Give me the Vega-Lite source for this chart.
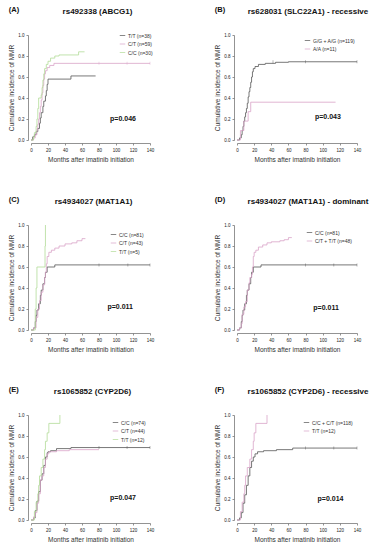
{
"$schema": "https://vega.github.io/schema/vega-lite/v6.json",
"background": "white",
"padding": {"left": 8, "top": 5, "right": 0, "bottom": 0},
"config": {
  "view": {"stroke": null},
  "font": "Liberation Sans",
  "axis": {"grid": false, "domainColor": "#777777", "tickColor": "#777777", "domainWidth": 0.8, "tickWidth": 0.8, "tickSize": 2, "tickCount": 20, "labelFontSize": 4.5, "labelColor": "#222222", "titleFontSize": 6.5, "titleFontWeight": "normal", "titleColor": "#333333", "offset": 3, "labelOverlap": false, "labelFlush": false, "labelBound": false},
  "axisX": {"labelPadding": 2, "titlePadding": 5},
  "axisY": {"labelPadding": 2, "titlePadding": 3},
  "legend": {"orient": "top-right", "symbolType": "stroke", "symbolSize": 30, "symbolStrokeWidth": 1, "labelFontSize": 5, "labelColor": "#333333", "rowPadding": 1.5, "padding": 0, "offset": 3, "labelOffset": 2, "labelLimit": 100},
  "title": {"fontSize": 8, "fontWeight": "bold", "color": "#111111"}
},
"datasets": {
  "km": [
    {"p":"A","g":"T/T (n=38)","x":0,"y":0},{"p":"A","g":"T/T (n=38)","x":2,"y":0.03},{"p":"A","g":"T/T (n=38)","x":4,"y":0.05},{"p":"A","g":"T/T (n=38)","x":6,"y":0.08},{"p":"A","g":"T/T (n=38)","x":8,"y":0.11},{"p":"A","g":"T/T (n=38)","x":10,"y":0.16},{"p":"A","g":"T/T (n=38)","x":11,"y":0.21},{"p":"A","g":"T/T (n=38)","x":12,"y":0.26},{"p":"A","g":"T/T (n=38)","x":14,"y":0.32},{"p":"A","g":"T/T (n=38)","x":15,"y":0.37},{"p":"A","g":"T/T (n=38)","x":17,"y":0.42},{"p":"A","g":"T/T (n=38)","x":18,"y":0.47},{"p":"A","g":"T/T (n=38)","x":19,"y":0.53},{"p":"A","g":"T/T (n=38)","x":20,"y":0.58},{"p":"A","g":"T/T (n=38)","x":47,"y":0.61},{"p":"A","g":"T/T (n=38)","x":76,"y":0.61},
    {"p":"A","g":"C/T (n=59)","x":0,"y":0},{"p":"A","g":"C/T (n=59)","x":3,"y":0.02},{"p":"A","g":"C/T (n=59)","x":5,"y":0.05},{"p":"A","g":"C/T (n=59)","x":7,"y":0.1},{"p":"A","g":"C/T (n=59)","x":8,"y":0.15},{"p":"A","g":"C/T (n=59)","x":9,"y":0.2},{"p":"A","g":"C/T (n=59)","x":10,"y":0.26},{"p":"A","g":"C/T (n=59)","x":11,"y":0.32},{"p":"A","g":"C/T (n=59)","x":12,"y":0.38},{"p":"A","g":"C/T (n=59)","x":13,"y":0.45},{"p":"A","g":"C/T (n=59)","x":14,"y":0.52},{"p":"A","g":"C/T (n=59)","x":15,"y":0.58},{"p":"A","g":"C/T (n=59)","x":16,"y":0.63},{"p":"A","g":"C/T (n=59)","x":17,"y":0.66},{"p":"A","g":"C/T (n=59)","x":19,"y":0.69},{"p":"A","g":"C/T (n=59)","x":22,"y":0.71},{"p":"A","g":"C/T (n=59)","x":27,"y":0.73},{"p":"A","g":"C/T (n=59)","x":140,"y":0.73},
    {"p":"A","g":"C/C (n=30)","x":0,"y":0},{"p":"A","g":"C/C (n=30)","x":3,"y":0.03},{"p":"A","g":"C/C (n=30)","x":4,"y":0.07},{"p":"A","g":"C/C (n=30)","x":6,"y":0.13},{"p":"A","g":"C/C (n=30)","x":7,"y":0.2},{"p":"A","g":"C/C (n=30)","x":8,"y":0.3},{"p":"A","g":"C/C (n=30)","x":9,"y":0.4},{"p":"A","g":"C/C (n=30)","x":12,"y":0.43},{"p":"A","g":"C/C (n=30)","x":13,"y":0.5},{"p":"A","g":"C/C (n=30)","x":14,"y":0.57},{"p":"A","g":"C/C (n=30)","x":15,"y":0.63},{"p":"A","g":"C/C (n=30)","x":16,"y":0.68},{"p":"A","g":"C/C (n=30)","x":18,"y":0.72},{"p":"A","g":"C/C (n=30)","x":20,"y":0.75},{"p":"A","g":"C/C (n=30)","x":23,"y":0.78},{"p":"A","g":"C/C (n=30)","x":28,"y":0.8},{"p":"A","g":"C/C (n=30)","x":33,"y":0.81},{"p":"A","g":"C/C (n=30)","x":56,"y":0.84},{"p":"A","g":"C/C (n=30)","x":63,"y":0.84},

    {"p":"B","g":"G/G + A/G (n=119)","x":0,"y":0},{"p":"B","g":"G/G + A/G (n=119)","x":3,"y":0.02},{"p":"B","g":"G/G + A/G (n=119)","x":5,"y":0.05},{"p":"B","g":"G/G + A/G (n=119)","x":6,"y":0.09},{"p":"B","g":"G/G + A/G (n=119)","x":7,"y":0.13},{"p":"B","g":"G/G + A/G (n=119)","x":8,"y":0.18},{"p":"B","g":"G/G + A/G (n=119)","x":9,"y":0.22},{"p":"B","g":"G/G + A/G (n=119)","x":10,"y":0.26},{"p":"B","g":"G/G + A/G (n=119)","x":11,"y":0.3},{"p":"B","g":"G/G + A/G (n=119)","x":12,"y":0.35},{"p":"B","g":"G/G + A/G (n=119)","x":13,"y":0.41},{"p":"B","g":"G/G + A/G (n=119)","x":14,"y":0.46},{"p":"B","g":"G/G + A/G (n=119)","x":15,"y":0.5},{"p":"B","g":"G/G + A/G (n=119)","x":16,"y":0.55},{"p":"B","g":"G/G + A/G (n=119)","x":17,"y":0.6},{"p":"B","g":"G/G + A/G (n=119)","x":18,"y":0.65},{"p":"B","g":"G/G + A/G (n=119)","x":19,"y":0.68},{"p":"B","g":"G/G + A/G (n=119)","x":21,"y":0.7},{"p":"B","g":"G/G + A/G (n=119)","x":25,"y":0.72},{"p":"B","g":"G/G + A/G (n=119)","x":33,"y":0.73},{"p":"B","g":"G/G + A/G (n=119)","x":45,"y":0.74},{"p":"B","g":"G/G + A/G (n=119)","x":60,"y":0.745},{"p":"B","g":"G/G + A/G (n=119)","x":140,"y":0.745},
    {"p":"B","g":"A/A (n=11)","x":0,"y":0},{"p":"B","g":"A/A (n=11)","x":4,"y":0.09},{"p":"B","g":"A/A (n=11)","x":8,"y":0.18},{"p":"B","g":"A/A (n=11)","x":13,"y":0.27},{"p":"B","g":"A/A (n=11)","x":16,"y":0.36},{"p":"B","g":"A/A (n=11)","x":115,"y":0.36},

    {"p":"C","g":"C/C (n=81)","x":0,"y":0},{"p":"C","g":"C/C (n=81)","x":3,"y":0.02},{"p":"C","g":"C/C (n=81)","x":5,"y":0.08},{"p":"C","g":"C/C (n=81)","x":6,"y":0.14},{"p":"C","g":"C/C (n=81)","x":7,"y":0.19},{"p":"C","g":"C/C (n=81)","x":9,"y":0.25},{"p":"C","g":"C/C (n=81)","x":11,"y":0.33},{"p":"C","g":"C/C (n=81)","x":12,"y":0.38},{"p":"C","g":"C/C (n=81)","x":14,"y":0.44},{"p":"C","g":"C/C (n=81)","x":16,"y":0.5},{"p":"C","g":"C/C (n=81)","x":17,"y":0.55},{"p":"C","g":"C/C (n=81)","x":19,"y":0.6},{"p":"C","g":"C/C (n=81)","x":28,"y":0.62},{"p":"C","g":"C/C (n=81)","x":140,"y":0.62},
    {"p":"C","g":"C/T (n=43)","x":0,"y":0},{"p":"C","g":"C/T (n=43)","x":3,"y":0.02},{"p":"C","g":"C/T (n=43)","x":6,"y":0.12},{"p":"C","g":"C/T (n=43)","x":8,"y":0.2},{"p":"C","g":"C/T (n=43)","x":10,"y":0.28},{"p":"C","g":"C/T (n=43)","x":12,"y":0.36},{"p":"C","g":"C/T (n=43)","x":14,"y":0.43},{"p":"C","g":"C/T (n=43)","x":16,"y":0.5},{"p":"C","g":"C/T (n=43)","x":17,"y":0.55},{"p":"C","g":"C/T (n=43)","x":18,"y":0.63},{"p":"C","g":"C/T (n=43)","x":19,"y":0.7},{"p":"C","g":"C/T (n=43)","x":21,"y":0.74},{"p":"C","g":"C/T (n=43)","x":24,"y":0.76},{"p":"C","g":"C/T (n=43)","x":28,"y":0.78},{"p":"C","g":"C/T (n=43)","x":33,"y":0.8},{"p":"C","g":"C/T (n=43)","x":40,"y":0.82},{"p":"C","g":"C/T (n=43)","x":48,"y":0.83},{"p":"C","g":"C/T (n=43)","x":54,"y":0.85},{"p":"C","g":"C/T (n=43)","x":60,"y":0.87},{"p":"C","g":"C/T (n=43)","x":64,"y":0.87},
    {"p":"C","g":"T/T (n=5)","x":0,"y":0},{"p":"C","g":"T/T (n=5)","x":5,"y":0.2},{"p":"C","g":"T/T (n=5)","x":6,"y":0.4},{"p":"C","g":"T/T (n=5)","x":7,"y":0.6},{"p":"C","g":"T/T (n=5)","x":16.5,"y":0.8},{"p":"C","g":"T/T (n=5)","x":17,"y":1.0},

    {"p":"D","g":"C/C (n=81)","x":0,"y":0},{"p":"D","g":"C/C (n=81)","x":3,"y":0.02},{"p":"D","g":"C/C (n=81)","x":5,"y":0.08},{"p":"D","g":"C/C (n=81)","x":6,"y":0.14},{"p":"D","g":"C/C (n=81)","x":7,"y":0.19},{"p":"D","g":"C/C (n=81)","x":9,"y":0.25},{"p":"D","g":"C/C (n=81)","x":11,"y":0.33},{"p":"D","g":"C/C (n=81)","x":12,"y":0.38},{"p":"D","g":"C/C (n=81)","x":14,"y":0.44},{"p":"D","g":"C/C (n=81)","x":16,"y":0.5},{"p":"D","g":"C/C (n=81)","x":17,"y":0.55},{"p":"D","g":"C/C (n=81)","x":19,"y":0.6},{"p":"D","g":"C/C (n=81)","x":28,"y":0.62},{"p":"D","g":"C/C (n=81)","x":140,"y":0.62},
    {"p":"D","g":"C/T + T/T (n=48)","x":0,"y":0},{"p":"D","g":"C/T + T/T (n=48)","x":3,"y":0.02},{"p":"D","g":"C/T + T/T (n=48)","x":5,"y":0.06},{"p":"D","g":"C/T + T/T (n=48)","x":6,"y":0.15},{"p":"D","g":"C/T + T/T (n=48)","x":8,"y":0.22},{"p":"D","g":"C/T + T/T (n=48)","x":10,"y":0.27},{"p":"D","g":"C/T + T/T (n=48)","x":12,"y":0.38},{"p":"D","g":"C/T + T/T (n=48)","x":14,"y":0.45},{"p":"D","g":"C/T + T/T (n=48)","x":15,"y":0.5},{"p":"D","g":"C/T + T/T (n=48)","x":17,"y":0.53},{"p":"D","g":"C/T + T/T (n=48)","x":18,"y":0.6},{"p":"D","g":"C/T + T/T (n=48)","x":19,"y":0.7},{"p":"D","g":"C/T + T/T (n=48)","x":20,"y":0.74},{"p":"D","g":"C/T + T/T (n=48)","x":22,"y":0.76},{"p":"D","g":"C/T + T/T (n=48)","x":25,"y":0.79},{"p":"D","g":"C/T + T/T (n=48)","x":30,"y":0.81},{"p":"D","g":"C/T + T/T (n=48)","x":35,"y":0.83},{"p":"D","g":"C/T + T/T (n=48)","x":40,"y":0.84},{"p":"D","g":"C/T + T/T (n=48)","x":50,"y":0.85},{"p":"D","g":"C/T + T/T (n=48)","x":55,"y":0.86},{"p":"D","g":"C/T + T/T (n=48)","x":60,"y":0.88},{"p":"D","g":"C/T + T/T (n=48)","x":64,"y":0.88},

    {"p":"E","g":"C/C (n=74)","x":0,"y":0},{"p":"E","g":"C/C (n=74)","x":3,"y":0.02},{"p":"E","g":"C/C (n=74)","x":5,"y":0.09},{"p":"E","g":"C/C (n=74)","x":7,"y":0.18},{"p":"E","g":"C/C (n=74)","x":9,"y":0.27},{"p":"E","g":"C/C (n=74)","x":11,"y":0.38},{"p":"E","g":"C/C (n=74)","x":13,"y":0.44},{"p":"E","g":"C/C (n=74)","x":15,"y":0.52},{"p":"E","g":"C/C (n=74)","x":17,"y":0.6},{"p":"E","g":"C/C (n=74)","x":19,"y":0.64},{"p":"E","g":"C/C (n=74)","x":20,"y":0.65},{"p":"E","g":"C/C (n=74)","x":23,"y":0.66},{"p":"E","g":"C/C (n=74)","x":30,"y":0.68},{"p":"E","g":"C/C (n=74)","x":47,"y":0.69},{"p":"E","g":"C/C (n=74)","x":140,"y":0.69},
    {"p":"E","g":"C/T (n=44)","x":0,"y":0},{"p":"E","g":"C/T (n=44)","x":3,"y":0.03},{"p":"E","g":"C/T (n=44)","x":5,"y":0.07},{"p":"E","g":"C/T (n=44)","x":7,"y":0.16},{"p":"E","g":"C/T (n=44)","x":9,"y":0.25},{"p":"E","g":"C/T (n=44)","x":11,"y":0.38},{"p":"E","g":"C/T (n=44)","x":13,"y":0.42},{"p":"E","g":"C/T (n=44)","x":15,"y":0.5},{"p":"E","g":"C/T (n=44)","x":17,"y":0.58},{"p":"E","g":"C/T (n=44)","x":19,"y":0.63},{"p":"E","g":"C/T (n=44)","x":21,"y":0.65},{"p":"E","g":"C/T (n=44)","x":30,"y":0.66},{"p":"E","g":"C/T (n=44)","x":45,"y":0.67},{"p":"E","g":"C/T (n=44)","x":80,"y":0.67},
    {"p":"E","g":"T/T (n=12)","x":0,"y":0},{"p":"E","g":"T/T (n=12)","x":4,"y":0.08},{"p":"E","g":"T/T (n=12)","x":6,"y":0.17},{"p":"E","g":"T/T (n=12)","x":8,"y":0.25},{"p":"E","g":"T/T (n=12)","x":9,"y":0.33},{"p":"E","g":"T/T (n=12)","x":10,"y":0.42},{"p":"E","g":"T/T (n=12)","x":12,"y":0.5},{"p":"E","g":"T/T (n=12)","x":14,"y":0.58},{"p":"E","g":"T/T (n=12)","x":16,"y":0.67},{"p":"E","g":"T/T (n=12)","x":17,"y":0.75},{"p":"E","g":"T/T (n=12)","x":19,"y":0.83},{"p":"E","g":"T/T (n=12)","x":21,"y":0.92},{"p":"E","g":"T/T (n=12)","x":34,"y":1.0},

    {"p":"F","g":"C/C + C/T (n=118)","x":0,"y":0},{"p":"F","g":"C/C + C/T (n=118)","x":3,"y":0.02},{"p":"F","g":"C/C + C/T (n=118)","x":5,"y":0.07},{"p":"F","g":"C/C + C/T (n=118)","x":7,"y":0.16},{"p":"F","g":"C/C + C/T (n=118)","x":9,"y":0.24},{"p":"F","g":"C/C + C/T (n=118)","x":11,"y":0.33},{"p":"F","g":"C/C + C/T (n=118)","x":13,"y":0.42},{"p":"F","g":"C/C + C/T (n=118)","x":15,"y":0.5},{"p":"F","g":"C/C + C/T (n=118)","x":17,"y":0.56},{"p":"F","g":"C/C + C/T (n=118)","x":19,"y":0.6},{"p":"F","g":"C/C + C/T (n=118)","x":21,"y":0.63},{"p":"F","g":"C/C + C/T (n=118)","x":24,"y":0.65},{"p":"F","g":"C/C + C/T (n=118)","x":31,"y":0.66},{"p":"F","g":"C/C + C/T (n=118)","x":46,"y":0.67},{"p":"F","g":"C/C + C/T (n=118)","x":65,"y":0.685},{"p":"F","g":"C/C + C/T (n=118)","x":140,"y":0.685},
    {"p":"F","g":"T/T (n=12)","x":0,"y":0},{"p":"F","g":"T/T (n=12)","x":4,"y":0.08},{"p":"F","g":"T/T (n=12)","x":6,"y":0.17},{"p":"F","g":"T/T (n=12)","x":8,"y":0.25},{"p":"F","g":"T/T (n=12)","x":9,"y":0.33},{"p":"F","g":"T/T (n=12)","x":10,"y":0.42},{"p":"F","g":"T/T (n=12)","x":12,"y":0.5},{"p":"F","g":"T/T (n=12)","x":15,"y":0.58},{"p":"F","g":"T/T (n=12)","x":17,"y":0.67},{"p":"F","g":"T/T (n=12)","x":19,"y":0.75},{"p":"F","g":"T/T (n=12)","x":20,"y":0.83},{"p":"F","g":"T/T (n=12)","x":22,"y":0.92},{"p":"F","g":"T/T (n=12)","x":35,"y":1.0}
  ],
  "cens": [
    {"p":"A","g":"C/T (n=59)","x":80,"y":0.73},{"p":"A","g":"C/T (n=59)","x":113,"y":0.73},{"p":"A","g":"C/T (n=59)","x":140,"y":0.73},
    {"p":"B","g":"G/G + A/G (n=119)","x":42,"y":0.745},{"p":"B","g":"G/G + A/G (n=119)","x":80,"y":0.745},{"p":"B","g":"G/G + A/G (n=119)","x":140,"y":0.745},
    {"p":"C","g":"C/C (n=81)","x":80,"y":0.62},{"p":"C","g":"C/C (n=81)","x":114,"y":0.62},{"p":"C","g":"C/C (n=81)","x":140,"y":0.62},
    {"p":"D","g":"C/C (n=81)","x":80,"y":0.62},{"p":"D","g":"C/C (n=81)","x":113,"y":0.62},{"p":"D","g":"C/C (n=81)","x":140,"y":0.62},
    {"p":"E","g":"C/C (n=74)","x":80,"y":0.69},{"p":"E","g":"C/C (n=74)","x":113,"y":0.69},{"p":"E","g":"C/C (n=74)","x":140,"y":0.69},
    {"p":"F","g":"C/C + C/T (n=118)","x":80,"y":0.685},{"p":"F","g":"C/C + C/T (n=118)","x":113,"y":0.685},{"p":"F","g":"C/C + C/T (n=118)","x":140,"y":0.685}
  ],
  "pv": [
    {"p":"A","x":93,"y":0.2,"t":"p=0.046"},
    {"p":"B","x":91,"y":0.22,"t":"p=0.043"},
    {"p":"C","x":90,"y":0.22,"t":"p=0.011"},
    {"p":"D","x":89,"y":0.21,"t":"p=0.011"},
    {"p":"E","x":93,"y":0.21,"t":"p=0.047"},
    {"p":"F","x":94,"y":0.2,"t":"p=0.014"}
  ]
},
"spacing": 32,
"resolve": {"scale": {"color": "independent", "x": "independent", "y": "independent"}, "legend": {"color": "independent"}},
"vconcat": [
 {"spacing": 60, "resolve": {"scale": {"color": "independent", "x": "independent", "y": "independent"}, "legend": {"color": "independent"}}, "hconcat": [
  {"title": {"text": "(A)", "anchor": "start", "fontSize": 7.5, "offset": -5},
   "resolve": {"scale": {"color": "independent", "x": "independent", "y": "independent"}, "legend": {"color": "independent"}, "axis": {"x": "independent", "y": "independent"}},
   "vconcat": [{"width": 119, "height": 105,
    "title": {"text": "rs492338 (ABCG1)", "anchor": "middle", "frame": "group", "dx": 7, "offset": 16},
    "layer": [
     {"data": {"name": "km"}, "transform": [{"filter": "datum.p == 'A'"}], "mark": {"type": "line", "interpolate": "step-after", "strokeWidth": 0.8},
      "encoding": {"x": {"field": "x", "type": "quantitative", "scale": {"domain": [0, 140]}, "axis": {"values": [0,20,40,60,80,100,120,140], "tickCount": 20, "labelOverlap": false, "title": "Months after imatinib initiation"}},
       "y": {"field": "y", "type": "quantitative", "scale": {"domain": [0, 1]}, "axis": {"values": [0,0.2,0.4,0.6,0.8,1], "tickCount": 20, "labelOverlap": false, "format": ".1f", "title": "Cumulative incidence of MMR"}},
       "color": {"field": "g", "type": "nominal", "scale": {"domain": ["T/T (n=38)", "C/T (n=59)", "C/C (n=30)"], "range": ["#555555", "#d9a3c8", "#b3dc98"]}, "legend": {"orient": "top-right", "offset": -3, "title": null}}}},
     {"data": {"name": "cens"}, "transform": [{"filter": "datum.p == 'A'"}], "mark": {"type": "tick", "orient": "vertical", "size": 3, "thickness": 0.6},
      "encoding": {"x": {"field": "x", "type": "quantitative"}, "y": {"field": "y", "type": "quantitative"}, "color": {"field": "g", "type": "nominal", "legend": {"orient": "top-right", "offset": -3, "title": null}}}},
     {"data": {"name": "pv"}, "transform": [{"filter": "datum.p == 'A'"}], "mark": {"type": "text", "align": "left", "baseline": "middle", "fontWeight": "bold", "fontSize": 7, "color": "#111111"},
      "encoding": {"x": {"field": "x", "type": "quantitative"}, "y": {"field": "y", "type": "quantitative"}, "text": {"field": "t"}}}
    ]}]},
  {"title": {"text": "(B)", "anchor": "start", "fontSize": 7.5, "offset": -5},
   "resolve": {"scale": {"color": "independent", "x": "independent", "y": "independent"}, "legend": {"color": "independent"}, "axis": {"x": "independent", "y": "independent"}},
   "vconcat": [{"width": 120, "height": 105,
    "title": {"text": "rs628031 (SLC22A1) - recessive", "anchor": "middle", "frame": "group", "dx": 11, "offset": 16},
    "layer": [
     {"data": {"name": "km"}, "transform": [{"filter": "datum.p == 'B'"}], "mark": {"type": "line", "interpolate": "step-after", "strokeWidth": 0.8},
      "encoding": {"x": {"field": "x", "type": "quantitative", "scale": {"domain": [0, 140]}, "axis": {"values": [0,20,40,60,80,100,120,140], "tickCount": 20, "labelOverlap": false, "title": "Months after imatinib initiation"}},
       "y": {"field": "y", "type": "quantitative", "scale": {"domain": [0, 1]}, "axis": {"values": [0,0.2,0.4,0.6,0.8,1], "tickCount": 20, "labelOverlap": false, "format": ".1f", "title": "Cumulative incidence of MMR"}},
       "color": {"field": "g", "type": "nominal", "scale": {"domain": ["G/G + A/G (n=119)", "A/A (n=11)"], "range": ["#555555", "#d9a3c8"]}, "legend": {"orient": "top-right", "offset": 2, "title": null}}}},
     {"data": {"name": "cens"}, "transform": [{"filter": "datum.p == 'B'"}], "mark": {"type": "tick", "orient": "vertical", "size": 3, "thickness": 0.6},
      "encoding": {"x": {"field": "x", "type": "quantitative"}, "y": {"field": "y", "type": "quantitative"}, "color": {"field": "g", "type": "nominal", "legend": {"orient": "top-right", "offset": 2, "title": null}}}},
     {"data": {"name": "pv"}, "transform": [{"filter": "datum.p == 'B'"}], "mark": {"type": "text", "align": "left", "baseline": "middle", "fontWeight": "bold", "fontSize": 7, "color": "#111111"},
      "encoding": {"x": {"field": "x", "type": "quantitative"}, "y": {"field": "y", "type": "quantitative"}, "text": {"field": "t"}}}
    ]}]}
 ]},
 {"spacing": 60, "resolve": {"scale": {"color": "independent", "x": "independent", "y": "independent"}, "legend": {"color": "independent"}}, "hconcat": [
  {"title": {"text": "(C)", "anchor": "start", "fontSize": 7.5, "offset": -5},
   "resolve": {"scale": {"color": "independent", "x": "independent", "y": "independent"}, "legend": {"color": "independent"}, "axis": {"x": "independent", "y": "independent"}},
   "vconcat": [{"width": 119, "height": 105,
    "title": {"text": "rs4934027 (MAT1A1)", "anchor": "middle", "frame": "group", "dx": 3, "offset": 16},
    "layer": [
     {"data": {"name": "km"}, "transform": [{"filter": "datum.p == 'C'"}], "mark": {"type": "line", "interpolate": "step-after", "strokeWidth": 0.8},
      "encoding": {"x": {"field": "x", "type": "quantitative", "scale": {"domain": [0, 140]}, "axis": {"values": [0,20,40,60,80,100,120,140], "tickCount": 20, "labelOverlap": false, "title": "Months after imatinib initiation"}},
       "y": {"field": "y", "type": "quantitative", "scale": {"domain": [0, 1]}, "axis": {"values": [0,0.2,0.4,0.6,0.8,1], "tickCount": 20, "labelOverlap": false, "format": ".1f", "title": "Cumulative incidence of MMR"}},
       "color": {"field": "g", "type": "nominal", "scale": {"domain": ["C/C (n=81)", "C/T (n=43)", "T/T (n=5)"], "range": ["#555555", "#d9a3c8", "#b3dc98"]}, "legend": {"orient": "top-right", "offset": 6, "title": null}}}},
     {"data": {"name": "cens"}, "transform": [{"filter": "datum.p == 'C'"}], "mark": {"type": "tick", "orient": "vertical", "size": 3, "thickness": 0.6},
      "encoding": {"x": {"field": "x", "type": "quantitative"}, "y": {"field": "y", "type": "quantitative"}, "color": {"field": "g", "type": "nominal", "legend": {"orient": "top-right", "offset": 6, "title": null}}}},
     {"data": {"name": "pv"}, "transform": [{"filter": "datum.p == 'C'"}], "mark": {"type": "text", "align": "left", "baseline": "middle", "fontWeight": "bold", "fontSize": 7, "color": "#111111"},
      "encoding": {"x": {"field": "x", "type": "quantitative"}, "y": {"field": "y", "type": "quantitative"}, "text": {"field": "t"}}}
    ]}]},
  {"title": {"text": "(D)", "anchor": "start", "fontSize": 7.5, "offset": -5},
   "resolve": {"scale": {"color": "independent", "x": "independent", "y": "independent"}, "legend": {"color": "independent"}, "axis": {"x": "independent", "y": "independent"}},
   "vconcat": [{"width": 120, "height": 105,
    "title": {"text": "rs4934027 (MAT1A1) - dominant", "anchor": "middle", "frame": "group", "dx": 11, "offset": 16},
    "layer": [
     {"data": {"name": "km"}, "transform": [{"filter": "datum.p == 'D'"}], "mark": {"type": "line", "interpolate": "step-after", "strokeWidth": 0.8},
      "encoding": {"x": {"field": "x", "type": "quantitative", "scale": {"domain": [0, 140]}, "axis": {"values": [0,20,40,60,80,100,120,140], "tickCount": 20, "labelOverlap": false, "title": "Months after imatinib initiation"}},
       "y": {"field": "y", "type": "quantitative", "scale": {"domain": [0, 1]}, "axis": {"values": [0,0.2,0.4,0.6,0.8,1], "tickCount": 20, "labelOverlap": false, "format": ".1f", "title": "Cumulative incidence of MMR"}},
       "color": {"field": "g", "type": "nominal", "scale": {"domain": ["C/C (n=81)", "C/T + T/T (n=48)"], "range": ["#555555", "#d9a3c8"]}, "legend": {"orient": "top-right", "offset": 4, "title": null}}}},
     {"data": {"name": "cens"}, "transform": [{"filter": "datum.p == 'D'"}], "mark": {"type": "tick", "orient": "vertical", "size": 3, "thickness": 0.6},
      "encoding": {"x": {"field": "x", "type": "quantitative"}, "y": {"field": "y", "type": "quantitative"}, "color": {"field": "g", "type": "nominal", "legend": {"orient": "top-right", "offset": 4, "title": null}}}},
     {"data": {"name": "pv"}, "transform": [{"filter": "datum.p == 'D'"}], "mark": {"type": "text", "align": "left", "baseline": "middle", "fontWeight": "bold", "fontSize": 7, "color": "#111111"},
      "encoding": {"x": {"field": "x", "type": "quantitative"}, "y": {"field": "y", "type": "quantitative"}, "text": {"field": "t"}}}
    ]}]}
 ]},
 {"spacing": 60, "resolve": {"scale": {"color": "independent", "x": "independent", "y": "independent"}, "legend": {"color": "independent"}}, "hconcat": [
  {"title": {"text": "(E)", "anchor": "start", "fontSize": 7.5, "offset": -5},
   "resolve": {"scale": {"color": "independent", "x": "independent", "y": "independent"}, "legend": {"color": "independent"}, "axis": {"x": "independent", "y": "independent"}},
   "vconcat": [{"width": 119, "height": 105,
    "title": {"text": "rs1065852 (CYP2D6)", "anchor": "middle", "frame": "group", "dx": 2, "offset": 16},
    "layer": [
     {"data": {"name": "km"}, "transform": [{"filter": "datum.p == 'E'"}], "mark": {"type": "line", "interpolate": "step-after", "strokeWidth": 0.8},
      "encoding": {"x": {"field": "x", "type": "quantitative", "scale": {"domain": [0, 140]}, "axis": {"values": [0,20,40,60,80,100,120,140], "tickCount": 20, "labelOverlap": false, "title": "Months after imatinib initiation"}},
       "y": {"field": "y", "type": "quantitative", "scale": {"domain": [0, 1]}, "axis": {"values": [0,0.2,0.4,0.6,0.8,1], "tickCount": 20, "labelOverlap": false, "format": ".1f", "title": "Cumulative incidence of MMR"}},
       "color": {"field": "g", "type": "nominal", "scale": {"domain": ["C/C (n=74)", "C/T (n=44)", "T/T (n=12)"], "range": ["#555555", "#d9a3c8", "#b3dc98"]}, "legend": {"orient": "top-right", "offset": 4, "title": null}}}},
     {"data": {"name": "cens"}, "transform": [{"filter": "datum.p == 'E'"}], "mark": {"type": "tick", "orient": "vertical", "size": 3, "thickness": 0.6},
      "encoding": {"x": {"field": "x", "type": "quantitative"}, "y": {"field": "y", "type": "quantitative"}, "color": {"field": "g", "type": "nominal", "legend": {"orient": "top-right", "offset": 4, "title": null}}}},
     {"data": {"name": "pv"}, "transform": [{"filter": "datum.p == 'E'"}], "mark": {"type": "text", "align": "left", "baseline": "middle", "fontWeight": "bold", "fontSize": 7, "color": "#111111"},
      "encoding": {"x": {"field": "x", "type": "quantitative"}, "y": {"field": "y", "type": "quantitative"}, "text": {"field": "t"}}}
    ]}]},
  {"title": {"text": "(F)", "anchor": "start", "fontSize": 7.5, "offset": -5},
   "resolve": {"scale": {"color": "independent", "x": "independent", "y": "independent"}, "legend": {"color": "independent"}, "axis": {"x": "independent", "y": "independent"}},
   "vconcat": [{"width": 120, "height": 105,
    "title": {"text": "rs1065852 (CYP2D6) - recessive", "anchor": "middle", "frame": "group", "dx": 11, "offset": 16},
    "layer": [
     {"data": {"name": "km"}, "transform": [{"filter": "datum.p == 'F'"}], "mark": {"type": "line", "interpolate": "step-after", "strokeWidth": 0.8},
      "encoding": {"x": {"field": "x", "type": "quantitative", "scale": {"domain": [0, 140]}, "axis": {"values": [0,20,40,60,80,100,120,140], "tickCount": 20, "labelOverlap": false, "title": "Months after imatinib initiation"}},
       "y": {"field": "y", "type": "quantitative", "scale": {"domain": [0, 1]}, "axis": {"values": [0,0.2,0.4,0.6,0.8,1], "tickCount": 20, "labelOverlap": false, "format": ".1f", "title": "Cumulative incidence of MMR"}},
       "color": {"field": "g", "type": "nominal", "scale": {"domain": ["C/C + C/T (n=118)", "T/T (n=12)"], "range": ["#555555", "#d9a3c8"]}, "legend": {"orient": "top-right", "offset": 4, "title": null}}}},
     {"data": {"name": "cens"}, "transform": [{"filter": "datum.p == 'F'"}], "mark": {"type": "tick", "orient": "vertical", "size": 3, "thickness": 0.6},
      "encoding": {"x": {"field": "x", "type": "quantitative"}, "y": {"field": "y", "type": "quantitative"}, "color": {"field": "g", "type": "nominal", "legend": {"orient": "top-right", "offset": 4, "title": null}}}},
     {"data": {"name": "pv"}, "transform": [{"filter": "datum.p == 'F'"}], "mark": {"type": "text", "align": "left", "baseline": "middle", "fontWeight": "bold", "fontSize": 7, "color": "#111111"},
      "encoding": {"x": {"field": "x", "type": "quantitative"}, "y": {"field": "y", "type": "quantitative"}, "text": {"field": "t"}}}
    ]}]}
 ]}
]
}
